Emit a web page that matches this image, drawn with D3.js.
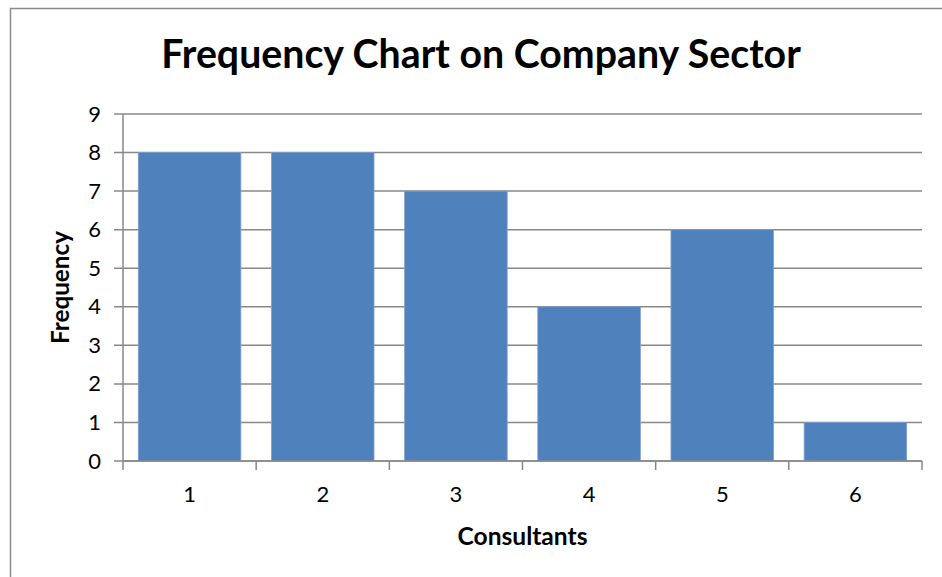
<!DOCTYPE html>
<meta charset="utf-8">
<script src="https://d3js.org/d3.v7.min.js"></script>
<style>
  body { margin: 0; background: #fff; }
  text { font-family: Lato, "Open Sans", sans-serif; }
</style>
<div id="chart"></div>
<script>
  // data
  const consultants = ["1", "2", "3", "4", "5", "6"];
  const frequency = [8, 8, 7, 4, 6, 1];
  const yTicks = [0, 1, 2, 3, 4, 5, 6, 7, 8, 9];

  const W = 942, H = 577;
  const margin = { top: 114, right: 20, bottom: 116, left: 123 },
    width = 922 - margin.left,
    height = 461 - margin.top;

  const svg = d3.select("#chart").append("svg")
    .attr("width", W)
    .attr("height", H);

  // outer chart frame
  svg.append("rect")
    .attr("x", 10.5).attr("y", 8.5)
    .attr("width", W + 10).attr("height", H + 10)
    .attr("fill", "none")
    .attr("stroke", "#8c8c8c")
    .attr("stroke-width", 1.5);

  const g = svg.append("g")
    .attr("transform", `translate(${margin.left},${margin.top})`);

  const x = d3.scaleBand()
    .domain(consultants)
    .range([0, width])
    .paddingInner(0.23)
    .paddingOuter(0.115);

  const y = d3.scaleLinear()
    .domain([0, 9])
    .range([height, 0]);

  // gridlines
  g.append("g")
    .selectAll("line")
    .data(yTicks)
    .join("line")
    .attr("x1", -9)
    .attr("x2", width)
    .attr("y1", d => y(d))
    .attr("y2", d => y(d))
    .attr("stroke", "#888")
    .attr("stroke-width", 1.5);

  // bars
  g.selectAll("rect.bar")
    .data(frequency)
    .join("rect")
    .attr("class", "bar")
    .attr("x", (d, i) => x(consultants[i]))
    .attr("y", d => y(d))
    .attr("width", x.bandwidth())
    .attr("height", d => height - y(d))
    .attr("fill", "#4f81bd")
    .attr("stroke", "#7f9fcf")
    .attr("stroke-width", 0.8);

  // y axis
  const yAxis = g.append("g")
    .call(d3.axisLeft(y).tickValues(yTicks).tickSize(9).tickPadding(13));
  yAxis.select(".domain").attr("stroke", "#888").attr("stroke-width", 1.5)
    .attr("d", `M0,0V${height}`);
  yAxis.selectAll(".tick line").remove();
  yAxis.selectAll("text")
    .style("font-size", "22px")
    .style("fill", "#000");

  // x axis with ticks at band edges
  const xAxis = g.append("g")
    .attr("transform", `translate(0,${height})`)
    .call(d3.axisBottom(x).tickSize(0).tickPadding(25));
  xAxis.select(".domain").attr("stroke", "#888").attr("stroke-width", 1.5)
    .attr("d", `M0,0H${width}`);
  xAxis.selectAll("text")
    .style("font-size", "22px")
    .style("fill", "#000");
  const step = width / consultants.length;
  xAxis.selectAll("line.edge")
    .data(d3.range(consultants.length + 1))
    .join("line")
    .attr("class", "edge")
    .attr("x1", d => d * step).attr("x2", d => d * step)
    .attr("y1", 0).attr("y2", 9)
    .attr("stroke", "#888")
    .attr("stroke-width", 1.5);

  // fit a text to a target width
  function fit(sel, target) {
    const w = sel.node().getComputedTextLength();
    const fs = parseFloat(sel.style("font-size"));
    sel.style("font-size", (fs * target / w) + "px");
  }

  const title = svg.append("text")
    .attr("x", 481).attr("y", 68)
    .attr("text-anchor", "middle")
    .style("font-size", "36px")
    .style("font-weight", "bold")
    .text("Frequency Chart on Company Sector");
  fit(title, 640);

  const xt = svg.append("text")
    .attr("x", margin.left + width / 2).attr("y", 545)
    .attr("text-anchor", "middle")
    .style("font-size", "20px")
    .style("font-weight", "bold")
    .text("Consultants");
  fit(xt, 130);

  const yt = svg.append("text")
    .attr("transform", `translate(69,${margin.top + height / 2}) rotate(-90)`)
    .attr("text-anchor", "middle")
    .style("font-size", "20px")
    .style("font-weight", "bold")
    .text("Frequency");
  fit(yt, 113);
</script>
